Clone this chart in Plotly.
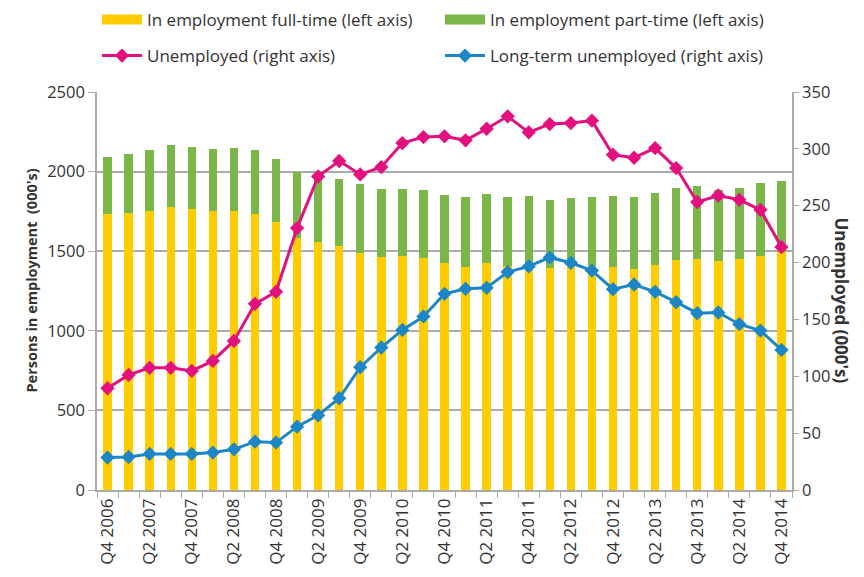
import plotly.graph_objects as go

quarters = ["Q4 2006", "Q1 2007", "Q2 2007", "Q3 2007", "Q4 2007", "Q1 2008", "Q2 2008", "Q3 2008",
            "Q4 2008", "Q1 2009", "Q2 2009", "Q3 2009", "Q4 2009", "Q1 2010", "Q2 2010", "Q3 2010",
            "Q4 2010", "Q1 2011", "Q2 2011", "Q3 2011", "Q4 2011", "Q1 2012", "Q2 2012", "Q3 2012",
            "Q4 2012", "Q1 2013", "Q2 2013", "Q3 2013", "Q4 2013", "Q1 2014", "Q2 2014", "Q3 2014",
            "Q4 2014"]

full_time = [1735, 1741, 1750, 1779, 1764, 1754, 1750, 1735, 1681, 1580, 1555, 1530, 1490, 1465, 1471, 1459,
             1423, 1402, 1423, 1410, 1415, 1394, 1415, 1410, 1398, 1389, 1415, 1446, 1452, 1438, 1452, 1473,
             1494]
total_employment = [2089, 2108, 2135, 2167, 2156, 2144, 2146, 2135, 2081, 1995, 1955, 1953, 1920, 1892, 1892, 1884,
                    1855, 1840, 1861, 1842, 1846, 1823, 1834, 1840, 1848, 1842, 1867, 1899, 1907, 1886, 1899, 1926,
                    1938]
part_time = [t - f for t, f in zip(total_employment, full_time)]

unemployed = [89.5, 101.2, 107.4, 107.4, 104.7, 113.5, 131.1, 163.7, 174.3, 230.3, 275.8, 289.3, 277.5, 284.0,
              305.1, 310.4, 311.0, 307.5, 317.7, 328.6, 314.5, 321.8, 322.7, 324.8, 294.8, 292.2, 300.7, 283.1,
              253.2, 259.0, 255.2, 246.4, 213.6]
long_term = [28.5, 29.0, 31.7, 31.7, 31.7, 32.9, 35.8, 42.5, 41.7, 55.7, 65.7, 80.7, 108.0, 125.3, 140.8, 152.6,
             172.5, 176.9, 177.8, 191.6, 196.6, 204.5, 199.8, 193.0, 176.6, 180.7, 174.3, 165.2, 155.5, 156.1,
             145.8, 140.2, 123.2]

x = list(range(len(quarters)))
tick_pos = x[::2]
tick_text = quarters[::2]

YELLOW = "#FFCC00"
GREEN = "#7AB648"
PINK = "#E2117D"
BLUE = "#1C86C6"
GRID = "#ABABAB"
TXT = "#333333"
LEGFONT = dict(family="Open Sans, sans-serif", size=17, color=TXT)
TICKFONT = dict(family="Open Sans, sans-serif", size=16.5, color=TXT)

# the page body adds an 8px offset, so the figure is 8px smaller on each side
W, H = 856, 569
ML, MR, MT, MB = 89, 72, 84, 87

fig = go.Figure()
fig.add_trace(go.Bar(x=x, y=full_time, name="In employment full-time (left axis)",
                     marker=dict(color=YELLOW, line=dict(width=0)), showlegend=False))
fig.add_trace(go.Bar(x=x, y=part_time, name="In employment part-time (left axis)",
                     marker=dict(color=GREEN, line=dict(width=0)), showlegend=False))
# legend entries for the bars, drawn as thick colour swatches
fig.add_trace(go.Scatter(x=[None], y=[None], name="In employment full-time (left axis)", mode="lines",
                         line=dict(color=YELLOW, width=12), legend="legend", hoverinfo="skip"))
fig.add_trace(go.Scatter(x=[None], y=[None], name="In employment part-time (left axis)", mode="lines",
                         line=dict(color=GREEN, width=12), legend="legend", hoverinfo="skip"))
fig.add_trace(go.Scatter(x=x, y=unemployed, name="Unemployed (right axis)", yaxis="y2",
                         mode="lines+markers", line=dict(color=PINK, width=3),
                         marker=dict(symbol="diamond", size=11, color=PINK), legend="legend2"))
fig.add_trace(go.Scatter(x=x, y=long_term, name="Long-term unemployed (right axis)", yaxis="y2",
                         mode="lines+markers", line=dict(color=BLUE, width=3),
                         marker=dict(symbol="diamond", size=11, color=BLUE), legend="legend2"))

legend_common = dict(orientation="h", xref="container", yref="container", xanchor="left",
                     yanchor="middle", entrywidth=288, entrywidthmode="pixels", itemwidth=40,
                     font=LEGFONT, bgcolor="rgba(0,0,0,0)", traceorder="normal")

fig.update_layout(
    width=W, height=H,
    margin=dict(l=ML, r=MR, t=MT, b=MB, autoexpand=False),
    paper_bgcolor="white", plot_bgcolor="white",
    barmode="stack", bargap=0.6,
    font=dict(family="Open Sans, sans-serif", size=15, color=TXT),
    xaxis=dict(
        range=[-0.5, len(quarters) - 0.5],
        tickmode="array", tickvals=tick_pos, ticktext=tick_text,
        tickangle=-90, ticks="", showgrid=False,
        showline=True, linecolor=GRID, linewidth=1.5,
        tickfont=dict(family="Open Sans, sans-serif", size=17, color=TXT),
        minor=dict(tickmode="linear", tick0=-0.5, dtick=1, ticks="outside", ticklen=6,
                   tickcolor=GRID, tickwidth=1, showgrid=False),
        zeroline=False,
    ),
    yaxis=dict(
        range=[0, 2500], tickvals=[0, 500, 1000, 1500, 2000, 2500],
        showgrid=True, gridcolor=GRID, gridwidth=1.5,
        showline=True, linecolor=GRID, linewidth=1.5,
        ticks="outside", ticklen=7, tickcolor=GRID,
        tickfont=TICKFONT,
        zeroline=False,
    ),
    yaxis2=dict(
        range=[0, 350], tickvals=[0, 50, 100, 150, 200, 250, 300, 350],
        overlaying="y", side="right", showgrid=False,
        showline=True, linecolor=GRID, linewidth=1.5,
        ticks="outside", ticklen=5, tickcolor=GRID,
        tickfont=TICKFONT,
        zeroline=False,
    ),
    legend=dict(x=89 / W, y=1 - 12 / H, **legend_common),
    legend2=dict(x=89 / W, y=1 - 48 / H, **legend_common),
)

pw = W - ML - MR
ph = H - MT - MB


def px_to_paper(px, py):
    return (px - ML) / pw, (H - MB - py) / ph


lx, ly = px_to_paper(11, 273)
rx, ry = px_to_paper(847, 292)
fig.add_annotation(text="<b>Persons in employment  (000's)</b>", x=lx, y=ly, xref="paper", yref="paper",
                   showarrow=False, textangle=-90, font=dict(family="Open Sans, sans-serif", size=14.5, color=TXT))
fig.add_annotation(text="<b>Unemployed (000's)</b>", x=rx, y=ry, xref="paper", yref="paper",
                   showarrow=False, textangle=90, font=dict(family="Open Sans, sans-serif", size=17, color=TXT))

fig.write_html("out.html")
